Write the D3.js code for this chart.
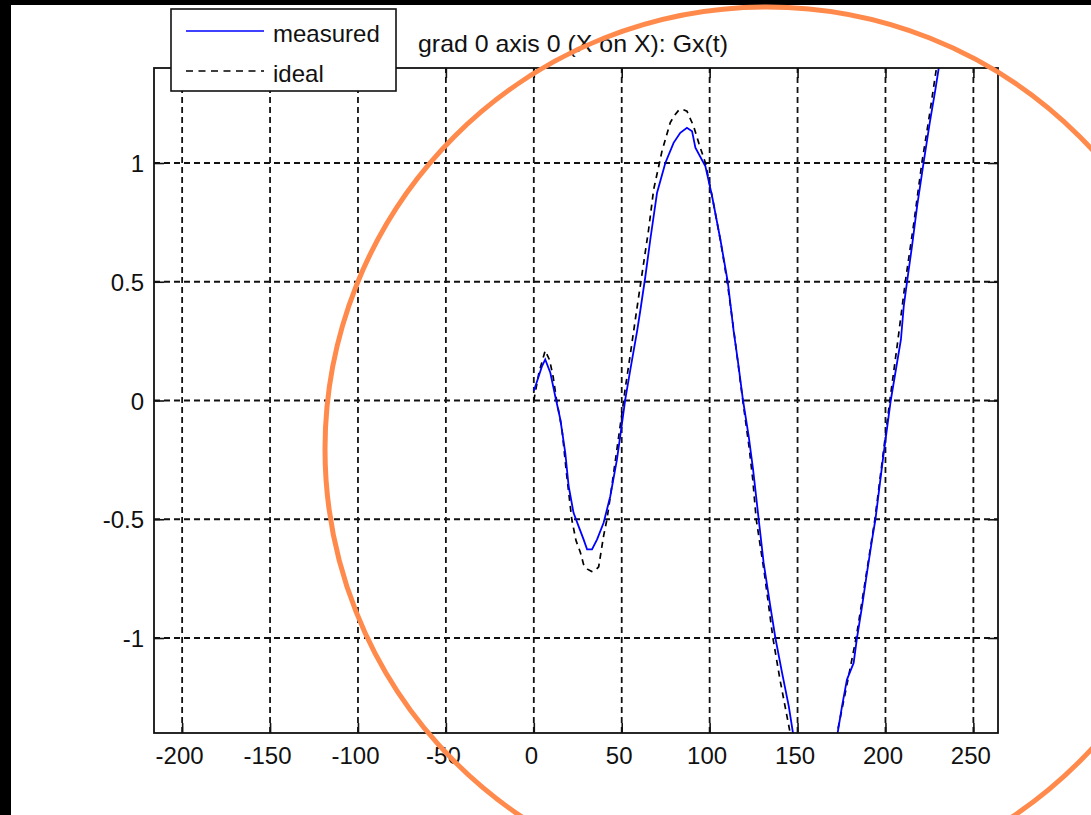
<!DOCTYPE html>
<html>
<head>
<meta charset="utf-8">
<script src="https://cdn.jsdelivr.net/npm/d3@7"></script>
<style>
  html, body { margin: 0; padding: 0; background: #fff; }
  svg { display: block; }
  text { font-family: "Liberation Sans", Arial, sans-serif; fill: #111; }
</style>
</head>
<body>
<svg id="chart" width="1091" height="815"></svg>
<script>
// ---- data ----
const titleText = "grad 0 axis 0 (X on X): Gx(t)";
const seriesNames = ["measured", "ideal"];
const xTicks = [-200, -150, -100, -50, 0, 50, 100, 150, 200, 250];
const yTicks = [-1, -0.5, 0, 0.5, 1];
const xTickLabels = ["-200", "-150", "-100", "-50", "0", "50", "100", "150", "200", "250"];
const yTickLabels = ["-1", "-0.5", "0", "0.5", "1"];
const xDomain = [-216, 264];
const yDomain = [-1.4, 1.4];

const measuredT = [0, 2.7, 4.7, 6.5, 9.4, 12.2, 15.1, 17.9, 19.8, 22.6, 25.5, 28.3, 30.3, 33.1, 36, 39.7, 43.5, 47.3, 50.2, 52, 54.9, 58.7, 60.6, 63.4, 66.3, 70.1, 74.8, 79.5, 83.3, 87.1, 90, 91.9, 97.6, 101.4, 106.1, 110.3, 113.7, 116, 119, 122.2, 124.7, 127.9, 130.7, 134.5, 137.4, 141.2, 145, 147.4, 152, 160, 168, 172.8, 175.3, 178.1, 181.9, 183.8, 186.7, 189.5, 192.4, 194.3, 198.5, 203, 208.8, 210.4, 212.3, 215.1, 218, 221.7, 225.2, 228.4, 230.3, 232];
const measuredV = [0.04, 0.10, 0.145, 0.173, 0.117, 0.018, -0.08, -0.22, -0.36, -0.473, -0.53, -0.585, -0.627, -0.627, -0.585, -0.515, -0.403, -0.248, -0.094, 0.004, 0.13, 0.29, 0.38, 0.52, 0.68, 0.875, 1.0, 1.085, 1.127, 1.148, 1.134, 1.064, 0.986, 0.86, 0.678, 0.5, 0.29, 0.17, 0, -0.15, -0.29, -0.5, -0.683, -0.866, -1.0, -1.147, -1.287, -1.4, -1.55, -1.65, -1.55, -1.4, -1.287, -1.175, -1.105, -1.0, -0.866, -0.725, -0.585, -0.5, -0.25, 0.0, 0.257, 0.397, 0.502, 0.65, 0.818, 1.003, 1.17, 1.31, 1.40, 1.47];

const idealT = [0, 3, 6.5, 9, 11, 13, 16, 18.5, 21.6, 24, 26.5, 28.3, 30.5, 33, 35, 36.9, 39.7, 41.6, 44, 47, 50, 52, 55, 58.5, 62.5, 65.3, 68.2, 72.9, 77.6, 80, 82.4, 85, 87.1, 90.9, 94, 97.6, 101.4, 106, 110, 114, 118.5, 122.5, 124.5, 126.5, 131, 136, 140, 145.8, 152, 160, 168, 172.5, 178, 183.3, 188.5, 194, 202.5, 207, 211.3, 216, 220.7, 225, 229, 231];
const idealV = [0, 0.12, 0.21, 0.17, 0.1, 0.0, -0.12, -0.3, -0.5, -0.59, -0.64, -0.69, -0.71, -0.72, -0.715, -0.70, -0.57, -0.50, -0.38, -0.22, -0.06, 0.05, 0.2, 0.38, 0.58, 0.72, 0.89, 1.05, 1.17, 1.2, 1.222, 1.225, 1.218, 1.155, 1.08, 1.0, 0.86, 0.68, 0.5, 0.28, 0.02, -0.2, -0.33, -0.5, -0.72, -1.0, -1.175, -1.4, -1.6, -1.7, -1.6, -1.4, -1.2, -1.0, -0.76, -0.5, 0.0, 0.25, 0.5, 0.74, 1.0, 1.2, 1.4, 1.47];

// ---- layout ----
const W = 1091, H = 815;
const plot = { left: 154, right: 998, top: 68, bottom: 733 };

const svg = d3.select("#chart");

svg.append("rect").attr("x", 0).attr("y", 0).attr("width", W).attr("height", H).attr("fill", "#fff");
svg.append("rect").attr("x", 0).attr("y", 0).attr("width", W).attr("height", 5).attr("fill", "#000");
svg.append("rect").attr("x", 0).attr("y", 0).attr("width", 11).attr("height", H).attr("fill", "#000");

const x = d3.scaleLinear().domain(xDomain).range([plot.left, plot.right]);
const y = d3.scaleLinear().domain(yDomain).range([plot.bottom, plot.top]);

svg.append("defs").append("clipPath").attr("id", "clip")
  .append("rect").attr("x", plot.left).attr("y", plot.top)
  .attr("width", plot.right - plot.left).attr("height", plot.bottom - plot.top);

// grid
const grid = svg.append("g");
grid.selectAll("line.gx").data(xTicks).join("line")
  .attr("x1", d => x(d)).attr("x2", d => x(d))
  .attr("y1", plot.bottom).attr("y2", plot.top)
  .attr("stroke", "#111").attr("stroke-width", 1.8).attr("stroke-dasharray", "6,4");
grid.selectAll("line.gy").data(yTicks).join("line")
  .attr("y1", d => y(d)).attr("y2", d => y(d))
  .attr("x1", plot.left).attr("x2", plot.right)
  .attr("stroke", "#111").attr("stroke-width", 1.8).attr("stroke-dasharray", "6,4");

// series
const measured = measuredT.map((t, i) => [t, measuredV[i]]);
const ideal = idealT.map((t, i) => [t, idealV[i]]);
const line = d3.line().x(d => x(d[0])).y(d => y(d[1]));

const curves = svg.append("g").attr("clip-path", "url(#clip)");
curves.append("path").datum(ideal).attr("d", line)
  .attr("fill", "none").attr("stroke", "#000").attr("stroke-width", 1.7)
  .attr("stroke-dasharray", "6,5");
curves.append("path").datum(measured).attr("d", line)
  .attr("fill", "none").attr("stroke", "#0000ff").attr("stroke-width", 1.8);

// axes
const tickLen = 10;
const axB = svg.append("g").attr("transform", `translate(0,${plot.bottom})`)
  .call(d3.axisBottom(x).tickValues(xTicks).tickSizeInner(-tickLen).tickSizeOuter(0).tickPadding(14)
    .tickFormat((d, i) => xTickLabels[i]));
const axT = svg.append("g").attr("transform", `translate(0,${plot.top})`)
  .call(d3.axisTop(x).tickValues(xTicks).tickSizeInner(-tickLen).tickSizeOuter(0).tickFormat(""));
const axL = svg.append("g").attr("transform", `translate(${plot.left},0)`)
  .call(d3.axisLeft(y).tickValues(yTicks).tickSizeInner(-tickLen).tickSizeOuter(0).tickPadding(10)
    .tickFormat((d, i) => yTickLabels[i]));
const axR = svg.append("g").attr("transform", `translate(${plot.right},0)`)
  .call(d3.axisRight(y).tickValues(yTicks).tickSizeInner(-tickLen).tickSizeOuter(0).tickFormat(""));

[axB, axT, axL, axR].forEach(g => {
  g.select(".domain").remove();
  g.selectAll(".tick line").attr("stroke", "#111").attr("stroke-width", 1.6);
  g.selectAll("text").attr("font-family", "Liberation Sans, Arial, sans-serif")
    .attr("font-size", 24).attr("fill", "#111");
});
axB.selectAll("text").attr("dy", "0.71em").attr("dx", "-3");
axL.selectAll("text").attr("dy", "0.36em");

svg.append("rect").attr("x", plot.left).attr("y", plot.top)
  .attr("width", plot.right - plot.left).attr("height", plot.bottom - plot.top)
  .attr("fill", "none").attr("stroke", "#111").attr("stroke-width", 1.8);

// title
svg.append("text").attr("x", 418).attr("y", 52)
  .attr("font-size", 24).attr("textLength", 310).attr("lengthAdjust", "spacingAndGlyphs")
  .text(titleText);

// legend
const lg = svg.append("g");
lg.append("rect").attr("x", 171).attr("y", 9).attr("width", 225).attr("height", 82)
  .attr("fill", "#fff").attr("stroke", "#111").attr("stroke-width", 1.6);
const legendRows = [
  { name: seriesNames[0], y: 31, color: "#0000ff", dash: null },
  { name: seriesNames[1], y: 71, color: "#000", dash: "7,5.5" }
];
legendRows.forEach(r => {
  lg.append("line").attr("x1", 186).attr("x2", 264).attr("y1", r.y).attr("y2", r.y)
    .attr("stroke", r.color).attr("stroke-width", 1.7)
    .attr("stroke-dasharray", r.dash);
  lg.append("text").attr("x", 273).attr("y", r.y + 11).attr("font-size", 24).text(r.name);
});

// orange annotation circle
svg.append("circle").attr("cx", 767).attr("cy", 449).attr("r", 442)
  .attr("fill", "none").attr("stroke", "#ff8a4c").attr("stroke-width", 5);
</script>
</body>
</html>
